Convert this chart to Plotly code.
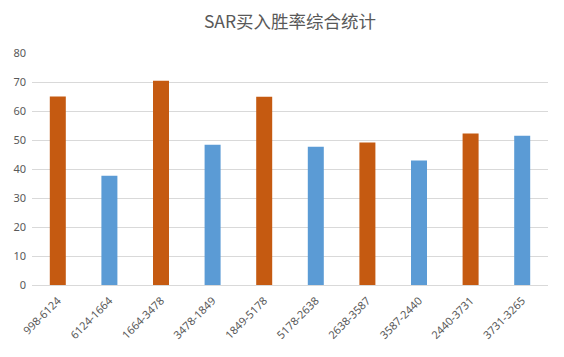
import plotly.graph_objects as go

categories = ["998-6124", "6124-1664", "1664-3478", "3478-1849", "1849-5178",
              "5178-2638", "2638-3587", "3587-2440", "2440-3731", "3731-3265"]
values = [65.0, 37.7, 70.4, 48.4, 64.9, 47.7, 49.1, 42.9, 52.2, 51.5]
bar_colors = ["#C55A11", "#5B9BD5", "#C55A11", "#5B9BD5", "#C55A11",
              "#5B9BD5", "#C55A11", "#5B9BD5", "#C55A11", "#5B9BD5"]
y_ticks = [0, 10, 20, 30, 40, 50, 60, 70, 80]

fig = go.Figure(go.Bar(x=categories, y=values, marker_color=bar_colors,
                       marker_line_width=0, width=0.31))

fig.update_layout(
    width=564, height=357,
    margin=dict(l=24, r=24, t=45, b=80),
    paper_bgcolor="white", plot_bgcolor="white",
    title=dict(text="SAR买入胜率综合统计", x=0.5, xanchor="center", y=1 - 14 / 357, yanchor="middle",
               font=dict(family="Noto Sans CJK SC", size=17.5, color="#595959")),
    showlegend=False,
    font=dict(family="Noto Sans", size=11, color="#595959"),
)
fig.update_xaxes(type="category", tickangle=-45, showgrid=False, showline=True,
                 linecolor="#D9D9D9", linewidth=1, ticks="", automargin=False,
                 ticklabelstandoff=4,
                 tickfont=dict(size=11, color="#595959"))
fig.update_yaxes(range=[0, 80], tickvals=y_ticks, showgrid=True, gridcolor="#D9D9D9",
                 gridwidth=1, zeroline=False, showline=False, ticks="", automargin=False,
                 ticklabelstandoff=5,
                 tickfont=dict(size=11, color="#595959"))

fig.write_html("out.html")
